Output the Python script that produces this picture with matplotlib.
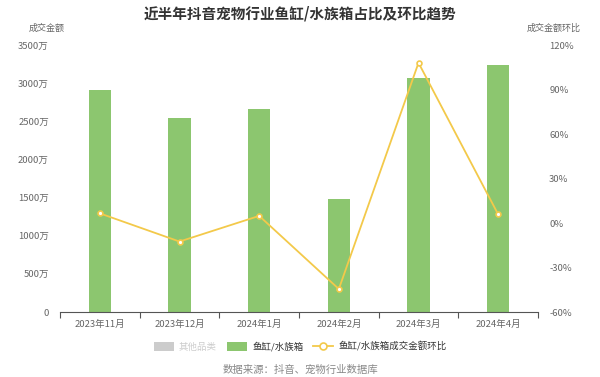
import matplotlib.pyplot as plt
from matplotlib.patches import Patch
from matplotlib.lines import Line2D

plt.rcParams['font.family'] = ['Noto Sans CJK SC', 'DejaVu Sans']

# 数据
months = ['2023年11月', '2023年12月', '2024年1月', '2024年2月', '2024年3月', '2024年4月']
sales = [2915, 2548, 2665, 1476, 3072, 3242]  # 万元
mom = [6.5, -12.5, 4.8, -44.5, 108.0, 5.8]      # %
left_ticks = [0, 500, 1000, 1500, 2000, 2500, 3000, 3500]
right_ticks = [-60, -30, 0, 30, 60, 90, 120]

green = '#8CC66F'
yellow = '#F3C94A'
gray_txt = '#666666'


def plot():
    fig = plt.figure(figsize=(6, 3.77), dpi=100)
    ax = fig.add_axes([0.1, 0.1724, 0.7967, 0.7082])
    ax2 = ax.twinx()

    x = list(range(len(months)))
    ax.bar(x, sales, width=0.28, color=green, zorder=2)
    ax2.plot(x, mom, color=yellow, lw=1.3, marker='o', ms=3.5,
             mfc='white', mec=yellow, mew=1.2, zorder=3)

    ax.set_xlim(-0.5, len(months) - 0.5)
    ax.set_ylim(0, 3500)
    ax2.set_ylim(-60, 120)

    ax.set_xticks(x)
    ax.set_xticklabels(months)
    ax.set_xticks([i - 0.5 for i in range(len(months) + 1)], minor=True)
    ax.tick_params(axis='x', which='major', length=0, pad=6,
                   labelsize=6.8, labelcolor=gray_txt)
    ax.tick_params(axis='x', which='minor', length=4, color='#555555', width=0.8)

    ax.set_yticks(left_ticks)
    ax.set_yticklabels([f'{v}万' if v else '0' for v in left_ticks])
    ax.tick_params(axis='y', length=0, pad=8, labelsize=6.8, labelcolor=gray_txt)

    ax2.set_yticks(right_ticks)
    ax2.set_yticklabels([f'{v}%' for v in right_ticks])
    ax2.tick_params(axis='y', length=0, pad=8, labelsize=6.8, labelcolor=gray_txt)

    for a in (ax, ax2):
        for s in ('top', 'left', 'right'):
            a.spines[s].set_visible(False)
    ax.spines['bottom'].set_color('#555555')
    ax.spines['bottom'].set_linewidth(0.8)
    ax2.spines['bottom'].set_visible(False)

    fig.text(0.5, 0.965, '近半年抖音宠物行业鱼缸/水族箱占比及环比趋势',
             ha='center', va='center', fontsize=10.5, fontweight='bold', color='#333333')
    fig.text(0.077, 0.925, '成交金额', ha='center', va='center', fontsize=6.5, color=gray_txt)
    fig.text(0.922, 0.925, '成交金额环比', ha='center', va='center', fontsize=6.5, color=gray_txt)

    handles = [
        Patch(facecolor='#CCCCCC', edgecolor='none'),
        Patch(facecolor=green, edgecolor='none'),
        Line2D([0], [0], color=yellow, lw=1.3, marker='o', ms=5,
               mfc='white', mec=yellow, mew=1.2),
    ]
    labels = ['其他品类', '鱼缸/水族箱', '鱼缸/水族箱成交金额环比']
    leg = fig.legend(handles, labels, loc='center', bbox_to_anchor=(0.5, 0.08),
                     ncol=3, frameon=False, fontsize=6.8, handlelength=2.2,
                     handleheight=1.1, columnspacing=1.0, handletextpad=0.5)
    leg.get_texts()[0].set_color('#CCCCCC')
    for t in leg.get_texts()[1:]:
        t.set_color('#333333')

    fig.text(0.5, 0.018, '数据来源：抖音、宠物行业数据库', ha='center', va='center',
             fontsize=7.5, color='#888888')

    fig.savefig('out.png', dpi=100)


def main():
    plot()


if __name__ == "__main__":
    main()
